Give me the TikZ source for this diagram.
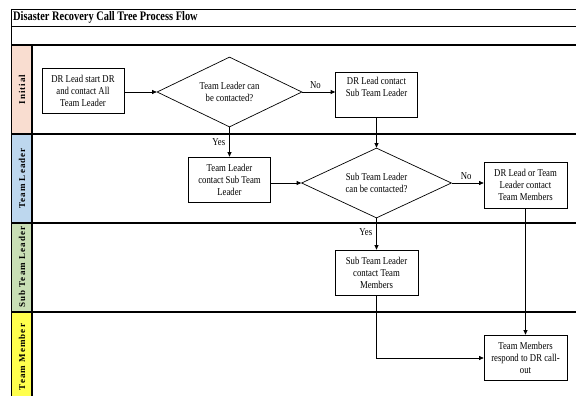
\documentclass[tikz,border=0pt]{standalone}
\usepackage{fontspec}
\setmainfont{Liberation Serif}[FakeStretch=0.83]
\newfontfamily\titlefont{Liberation Serif}[FakeStretch=0.8]
\newfontfamily\lanefont{Liberation Serif}[LetterSpace=12]
\usetikzlibrary{arrows.meta,shapes.geometric}
\definecolor{cInit}{HTML}{F9DDD0}
\definecolor{cTL}{HTML}{BDD7EE}
\definecolor{cSTL}{HTML}{C9DFB5}
\definecolor{cTM}{HTML}{FFFF4D}
\begin{document}
\begin{tikzpicture}[x=1pt,y=-1pt,
  txt/.style={font=\fontsize{10.5}{12}\selectfont},
  box/.style={draw,line width=0.7pt,align=center,inner sep=0pt,txt,
    minimum width=82pt,minimum height=45pt},
  dia/.style={draw,line width=0.7pt,diamond,align=center,inner sep=0pt,txt,
    shape aspect=2},
  flow/.style={line width=0.7pt,-{Triangle[length=4.5pt,width=4pt]}},
  lbl/.style={txt,inner sep=1pt},
  lanetxt/.style={rotate=90,font=\lanefont\bfseries\fontsize{9}{10}\selectfont,inner sep=0pt},
  thin/.style={line width=0.8pt},
  thick/.style={line width=1.5pt}]
\useasboundingbox (0,0) rectangle (576,396);
\fill[white] (0,0) rectangle (576,396);
% lane label cells
\fill[cInit] (11,45) rectangle (32,134);
\fill[cTL] (11,134) rectangle (32,223);
\fill[cSTL] (11,223) rectangle (32,312);
\fill[cTM] (11,312) rectangle (32,396);
% frame lines
\draw[thin] (11,9) -- (576,9);
\draw[thin] (11,26) -- (576,26);
\draw[thick] (11,45) -- (576,45);
\draw[thick] (11,134) -- (576,134);
\draw[thick] (11,223) -- (576,223);
\draw[thick] (11,312) -- (576,312);
\draw[thin] (11,9) -- (11,396);
\draw[thick] (32,45) -- (32,396);
% title
\node[anchor=west,inner sep=0pt,font=\titlefont\bfseries\fontsize{13}{15}\selectfont] (title) at (13,17.5) {Disaster Recovery Call Tree Process Flow};
% lane labels
\node[lanetxt] (l1) at (22,89.5) {Initial};
\node[lanetxt] (l2) at (22,178.5) {Team Leader};
\begin{scope}
\clip (11,223) rectangle (32,312);
\node[lanetxt,anchor=west] (l3) at (22,308) {Sub Team Leader};
\end{scope}
\node[lanetxt] (l4) at (22,357) {Team Member};
% nodes
\node[box] (b1) at (83,90.5) {DR Lead start DR\\and contact All\\Team Leader};
\node[dia,minimum width=145pt,minimum height=70pt] (d1) at (229.5,92) {Team Leader can\\be contacted?};
\node[box] (b2) at (376.5,94.5) {DR Lead contact\\Sub Team Leader\\\strut};
\node[box] (b3) at (229.5,179.5) {Team Leader\\contact Sub Team\\Leader};
\node[dia,minimum width=150pt,minimum height=70pt] (d2) at (376.5,183) {Sub Team Leader\\can be contacted?};
\node[box,minimum width=83pt,minimum height=46pt] (b4) at (525.5,185) {DR Lead or Team\\Leader contact\\Team Members};
\node[box,minimum width=83pt] (b5) at (376.5,272.5) {Sub Team Leader\\contact Team\\Members};
\node[box,minimum width=83pt] (b6) at (525.5,357.5) {Team Members\\respond to DR call-\\out};
% connectors
\draw[flow] (b1.east |- d1.west) -- (d1.west);
\draw[flow] (d1.east) -- (d1.east -| b2.west) node[lbl,pos=0.4,above=2pt] {No};
\draw[flow] (d1.south) -- (b3.north) node[lbl,pos=0.5,left=3pt] {Yes};
\draw[flow] (b2.south) -- (d2.north);
\draw[flow] (b3.east |- d2.west) -- (d2.west);
\draw[flow] (d2.east) -- (d2.east -| b4.west) node[lbl,pos=0.45,above=2pt] {No};
\draw[flow] (d2.south) -- (b5.north) node[lbl,pos=0.45,left=3pt] {Yes};
\draw[flow] (b4.south) -- (b6.north);
\coordinate (bend) at (b5.south |- 0,358);
\draw[flow] (b5.south) -- (bend) -- (bend -| b6.west);
\end{tikzpicture}
\end{document}
